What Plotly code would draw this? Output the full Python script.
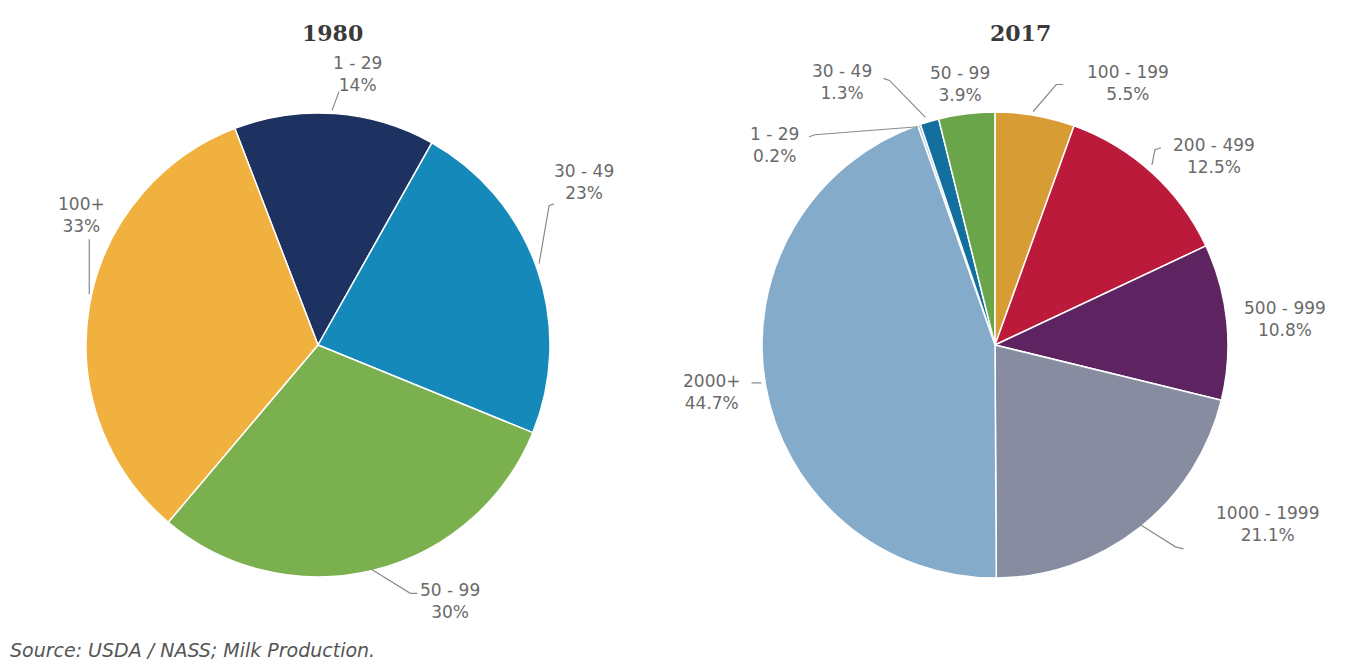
import math
import plotly.graph_objects as go

W, H = 1355, 670

# ---------------- data ----------------
cat_1980 = ["1 - 29", "30 - 49", "50 - 99", "100+"]
pct_1980 = [14, 23, 30, 33]
txt_1980 = ["14%", "23%", "30%", "33%"]

cat_2017 = ["1 - 29", "30 - 49", "50 - 99", "100 - 199", "200 - 499",
            "500 - 999", "1000 - 1999", "2000+"]
pct_2017 = [0.2, 1.3, 3.9, 5.5, 12.5, 10.8, 21.1, 44.7]
txt_2017 = ["0.2%", "1.3%", "3.9%", "5.5%", "12.5%", "10.8%", "21.1%", "44.7%"]

col_1980 = ["#1d3260", "#1589b9", "#7bb04e", "#f1b13f"]
col_2017 = ["#a9c8e0", "#136f9e", "#6aa54a", "#d89c35", "#bb1a3b",
            "#5d2461", "#878ca1", "#85abca"]

# ---------------- layout geometry (pixels) ----------------
PIES = [
    dict(cats=cat_1980, vals=pct_1980, txt=txt_1980, cols=col_1980,
         cx=318, cy=345, r=232, rot=-21, title="1980", tx=332),
    dict(cats=cat_2017, vals=pct_2017, txt=txt_2017, cols=col_2017,
         cx=995, cy=345, r=233, rot=-19.4, title="2017", tx=1020),
]

# label placement: (label offset from slice-edge midpoint, leader polyline offsets)
LABEL_LAYOUT = [
    {  # 1980
        "1 - 29": dict(lab=(23, -40), lead=[(-3, -3), (4, -22)]),
        "30 - 49": dict(lab=(47, -87), lead=[(2, -5), (12, -63), (17, -65)]),
        "50 - 99": dict(lab=(77, 31), lead=[(-2, -1), (37, 23), (44, 23)]),
        "100+": dict(lab=(-8, -91), lead=[(0, -12), (0, -67)]),
    },
    {  # 2017
        "1 - 29": dict(lab=(-144, 20), lead=[(-1, 2), (-104, 10), (-110, 12)]),
        "30 - 49": dict(lab=(-87, -39), lead=[(-4, -4), (-40, -41), (-46, -43)]),
        "50 - 99": dict(lab=(-7, -30), lead=[]),
        "100 - 199": dict(lab=(93, -32), lead=[(-2, -4), (21, -31), (28, -31)]),
        "200 - 499": dict(lab=(62, -17), lead=[(0, -8), (3, -23), (9, -25)]),
        "500 - 999": dict(lab=(58, -3), lead=[]),
        "1000 - 1999": dict(lab=(128, -4), lead=[(1, -3), (36, 19), (44, 21)]),
        "2000+": dict(lab=(-53, 7), lead=[(-4, -2), (-14, -2)]),
    },
]


def px(x):
    return x / W


def py(y):
    return 1 - y / H


fig = go.Figure()
annotations = []
shapes = []
font_lab = dict(family="DejaVu Sans", size=17, color="#6a6a6a")

for pie, lay in zip(PIES, LABEL_LAYOUT):
    cx, cy, r = pie["cx"], pie["cy"], pie["r"]
    fig.add_trace(go.Pie(
        labels=pie["cats"], values=pie["vals"], sort=False,
        direction="clockwise", rotation=pie["rot"],
        marker=dict(colors=pie["cols"], line=dict(color="white", width=1.5)),
        textinfo="none", hoverinfo="label+percent", showlegend=False,
        domain=dict(x=[px(cx - r), px(cx + r)], y=[py(cy + r), py(cy - r)]),
    ))
    annotations.append(dict(
        text=f"<b>{pie['title']}</b>", x=px(pie["tx"]), y=py(33),
        xref="paper", yref="paper", showarrow=False,
        xanchor="center", yanchor="middle",
        font=dict(family="DejaVu Serif", size=22, color="#3a3a3a")))
    total = sum(pie["vals"])
    start = pie["rot"]
    for c, v, t in zip(pie["cats"], pie["vals"], pie["txt"]):
        span = v / total * 360
        mid = math.radians(start + span / 2)
        start += span
        ex = cx + r * math.sin(mid)
        ey = cy - r * math.cos(mid)
        spec = lay[c]
        lx, ly = ex + spec["lab"][0], ey + spec["lab"][1]
        annotations.append(dict(
            text=f"{c}<br>{t}", x=px(lx), y=py(ly), xref="paper", yref="paper",
            showarrow=False, xanchor="center", yanchor="middle", align="center",
            font=font_lab))
        if spec["lead"]:
            pts = [(ex + dx, ey + dy) for dx, dy in spec["lead"]]
            path = "M " + " L ".join(f"{px(a):.5f},{py(b):.5f}" for a, b in pts)
            shapes.append(dict(type="path", path=path, xref="paper", yref="paper",
                               line=dict(color="#8a8a8a", width=1.2)))

annotations.append(dict(
    text="<i>Source: USDA / NASS; Milk Production.</i>", x=px(8), y=py(650),
    xref="paper", yref="paper", showarrow=False, xanchor="left", yanchor="middle",
    font=dict(family="DejaVu Sans", size=19, color="#555555")))

fig.update_layout(
    width=W, height=H, margin=dict(l=0, r=0, t=0, b=0),
    paper_bgcolor="white", plot_bgcolor="white",
    annotations=annotations, shapes=shapes,
)

fig.write_html("out.html")
